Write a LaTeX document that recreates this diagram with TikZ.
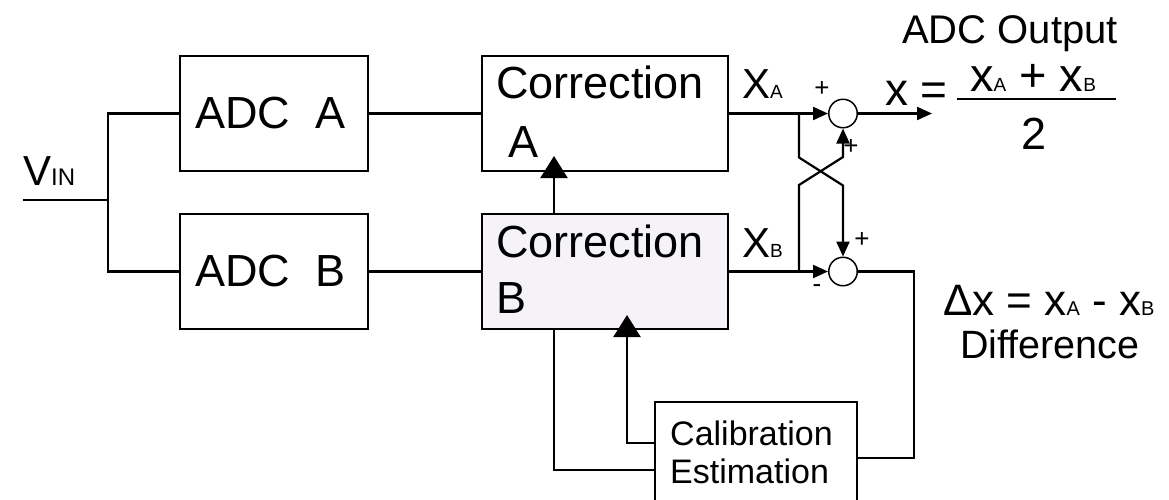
\documentclass[tikz,border=0pt]{standalone}
\usepackage{fontspec}
\setmainfont{Liberation Sans}
\usetikzlibrary{arrows.meta}
\newcommand\fsz[1]{\fontsize{#1}{#1}\selectfont}
\newcommand\sub[1]{{\fsz{19}#1}}
\begin{document}
\begin{tikzpicture}[x=1pt,y=-1pt,
  blk/.style={draw,line width=1.3pt,inner sep=0pt,minimum width=#1},
  blk/.default=188pt,
  sumc/.style={draw,circle,line width=1.5pt,fill=white,minimum size=28.5pt,inner sep=0pt},
  sig/.style={line width=2.2pt},
  sarrow/.style={sig,-{Triangle[length=15pt,width=13pt]}},
  barrow/.style={sig,-{Triangle[length=22pt,width=27pt]}},
  txt/.style={anchor=base west,inner sep=0pt},
  sgn/.style={inner sep=0pt,font=\fsz{26}}]
\useasboundingbox (0,0) rectangle (1169,499);
\clip (0,0) rectangle (1169,499);

% blocks
\node[blk,minimum height=115pt] (adca) at (274,113.5) {};
\node[blk,minimum height=115pt] (adcb) at (274,271.5) {};
\node[blk=246pt,minimum height=115pt] (corra) at (605,113.5) {};
\node[blk=246pt,minimum height=115pt,fill={rgb,255:red,245;green,243;blue,247}] (corrb) at (605,271.5) {};
\node[blk=202pt,minimum height=110pt] (cal) at (756,457) {};
\node[sumc] (s1) at (843,113.5) {};
\node[sumc] (s2) at (843,271.5) {};

% block texts
\node[txt,font=\fsz{45}] (tadca) at (195,128) {ADC~~A};
\node[txt,font=\fsz{45}] (tadcb) at (195,286) {ADC~~B};
\node[txt,font=\fsz{45}] (tca1) at (496,98) {Correction};
\node[txt,font=\fsz{45}] (tca2) at (508,157) {A};
\node[txt,font=\fsz{45}] (tcb1) at (496,257) {Correction};
\node[txt,font=\fsz{45}] (tcb2) at (496,313) {B};
\node[txt,font=\fsz{34}] (tcal1) at (670,445) {Calibration};
\node[txt,font=\fsz{34}] (tcal2) at (670,483) {Estimation};

% input
\coordinate (vin) at (23,200);
\coordinate (split) at (108,200);
\node[txt] (tvin) at (23,185) {\fsz{42}V\fsz{24}IN};
\draw[sig] (vin) -- (split);
\draw[sig] (adca.west) -| (split) |- (adcb.west);
\draw[sig] (adca.east) -- (corra.west);
\draw[sig] (adcb.east) -- (corrb.west);

% correction feedback
\coordinate (xs) at (554,0);
\coordinate (tipA) at (554,156);
\coordinate (tipB) at (627,315);
\coordinate (yhi) at (0,443);
\coordinate (ylow) at (0,470);
\draw[barrow] (corrb.north -| xs) -- (tipA);
\draw[barrow] (cal.west |- yhi) -| (tipB);
\draw[sig] (corrb.south -| xs) |- (cal.west |- ylow);

% outputs of the correction blocks
\node[txt] (txa) at (742,98) {\fsz{42}X\sub{A}};
\node[txt] (txb) at (742,257) {\fsz{42}X\sub{B}};
\coordinate (jA) at (799,113.5);
\coordinate (jB) at (799,271.5);
\draw[sarrow] (corra.east) -- (s1.west);
\draw[sarrow] (corrb.east) -- (s2.west);
\draw[sarrow] (jA) -- ++(0,44) -- ++(44,28) -- (s2.north);
\draw[sarrow] (jB) -- ++(0,-86.5) -- ++(44,-28) -- (s1.south);

% signs
\node[sgn] (p1) at (822,89) {+};
\node[sgn] (p2) at (851,147) {+};
\node[sgn] (p3) at (862,240) {+};
\node[sgn] (m1) at (817,289) {-};

% sum output
\coordinate (xout) at (932,113.5);
\draw[sarrow] (s1.east) -- (xout);
\node[txt,font=\fsz{40}] (tout) at (902,43) {ADC Output};
\node[txt,font=\fsz{46}] (teq) at (885,105) {x =};
\node[anchor=base,inner sep=0pt] (tnum) at (1033,91) {\fsz{47}x\sub{A} + x\sub{B}};
\draw[line width=1.5pt] (957,99) -- (1116,99);
\node[anchor=base,inner sep=0pt,font=\fsz{45}] (tden) at (1034,149) {2};

% difference path
\coordinate (rc) at (914,458);
\draw[sig] (s2.east) -| (rc) -- (cal.east |- rc);
\node[txt] (tdx) at (943,315) {\fsz{44}Δx = x{\fsz{20}A} - x{\fsz{20}B}};
\node[txt,font=\fsz{39.5}] (tdiff) at (960,358) {Difference};
\end{tikzpicture}
\end{document}
